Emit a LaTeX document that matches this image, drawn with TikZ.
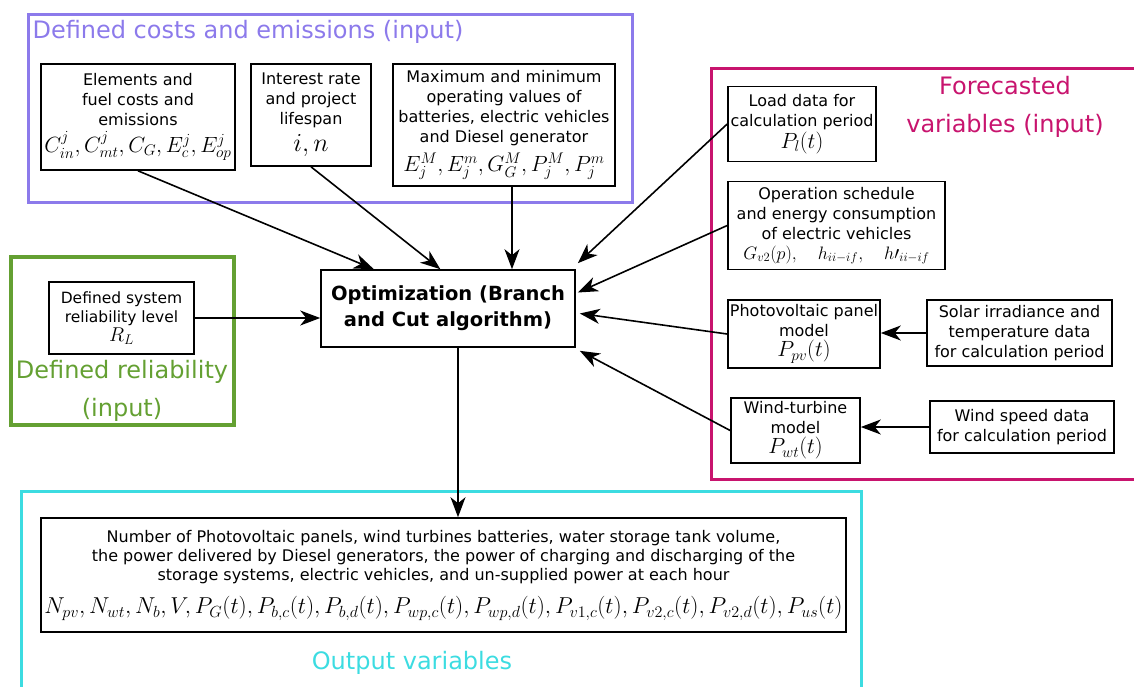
\RequirePackage{fix-cm}
\documentclass[tikz,border=0pt]{standalone}
\usepackage{amsmath}
\usepackage[no-math]{fontspec}
\setmainfont{DejaVu Sans}
\usetikzlibrary{arrows.meta, calc, positioning}
\definecolor{costcol}{RGB}{140,122,235}
\definecolor{relcol}{RGB}{100,160,50}
\definecolor{fccol}{RGB}{200,20,110}
\definecolor{outcol}{RGB}{60,220,225}
\newcommand{\boxfont}{\fontsize{16}{20}\selectfont}
\newcommand{\mathbig}{\fontsize{22}{24}\selectfont}
\newcommand{\titlefont}{\fontsize{24}{38}\selectfont}

\begin{document}
\begin{tikzpicture}[x=1pt, y=-1pt, >={Stealth[length=20pt, width=15pt, inset=6pt]},
    box/.style={draw, line width=1.6pt, align=center, inner sep=1pt, font=\boxfont},
    frame/.style={line width=3pt},
    link/.style={->, line width=1.6pt}]
    \useasboundingbox (0,0) rectangle (1134,686);

    % frames of the input and output groups
    \draw[frame, costcol] (28,14) rectangle (632,202);
    \draw[frame, relcol, line width=4pt] (11,257) rectangle (234,425);
    \draw[frame, fccol] (711,68) rectangle (1150,479);
    \draw[frame, outcol] (21,491) rectangle (861,700);

    \node[anchor=west, text=costcol, font=\titlefont] (costtitle) at (29,32) {Defined costs and emissions (input)};
    \node[align=center, text=relcol, font=\titlefont] (reltitle) at (122,391) {Defined reliability\\(input)};
    \node[align=center, text=fccol, font=\titlefont] (fctitle) at (1005,107) {Forecasted\\variables (input)};
    \node[text=outcol, font=\titlefont] (outtitle) at (412,663) {Output variables};

    % costs and emissions
    \node[box, minimum width=194, minimum height=106] (elem) at (138,117)
        {Elements and\\fuel costs and\\emissions\\[5pt]{\mathbig$C^j_{in}, C^j_{mt}, C_G, E^j_c, E^j_{op}$}};
    \node[box, minimum width=120, minimum height=102] (rate) at (311,115)
        {Interest rate\\and project\\lifespan\\[6pt]{\fontsize{26}{28}\selectfont$i, n$}};
    \node[box, minimum width=222, minimum height=122] (limits) at (504,125)
        {Maximum and minimum\\operating values of\\batteries, electric vehicles\\and Diesel generator\\[6pt]{\mathbig$E_j^M, E_j^m, G_G^M, P_j^M, P_j^m$}};

    % optimization
    \node[box, minimum width=254, minimum height=77, font=\bfseries\fontsize{19.5}{26}\selectfont] (opt) at (448,308.5)
        {Optimization (Branch\\and Cut algorithm)};

    % reliability
    \node[box, minimum width=145, minimum height=72, font=\fontsize{15.5}{19}\selectfont] (rel) at (121.5,318)
        {Defined system\\reliability level\\{\fontsize{20}{22}\selectfont$R_L$}};

    % forecasted variables
    \node[box, minimum width=148, minimum height=75] (load) at (802,124)
        {Load data for\\calculation period\\[2pt]{\mathbig$P_l(t)$}};
    \node[box, minimum width=217, minimum height=88] (ev) at (836.5,225.5)
        {Operation schedule\\and energy consumption\\of electric vehicles\\{\fontsize{18}{20}\selectfont$G_{v2}(p),\quad h_{ii-if},\quad h\prime_{ii-if}$}};
    \node[box, minimum width=152, minimum height=68] (pv) at (804,334)
        {Photovoltaic panel\\model\\{\mathbig$P_{pv}(t)$}};
    \node[box, minimum width=185, minimum height=66] (solar) at (1019.5,333)
        {Solar irradiance and\\temperature data\\for calculation period};
    \node[box, minimum width=129, minimum height=65] (wtm) at (795.5,430.5)
        {Wind-turbine\\model\\{\mathbig$P_{wt}(t)$}};
    \node[box, minimum width=184, minimum height=52] (wind) at (1022,427)
        {Wind speed data\\for calculation period};

    % output variables
    \node[box, minimum width=805, minimum height=114, font=\fontsize{16}{19}\selectfont] (out) at (443.5,575)
        {Number of Photovoltaic panels, wind turbines batteries, water storage tank volume,\\
         the power delivered by Diesel generators, the power of charging and discharging of the\\
         storage systems, electric vehicles, and un-supplied power at each hour\\[12pt]
         {\fontsize{23}{25}\selectfont$N_{pv}, N_{wt}, N_b, V, P_G(t), P_{b,c}(t), P_{b,d}(t), P_{wp,c}(t), P_{wp,d}(t), P_{v1,c}(t), P_{v2,c}(t), P_{v2,d}(t), P_{us}(t)$}};

    % connections
    \draw[link] (elem.south) -- ($(opt.north west)!0.21!(opt.north east)$);
    \draw[link] (rate.south) -- ($(opt.north west)!0.47!(opt.north east)$);
    \draw[link] ([xshift=8]limits.south) -- ([xshift=8]limits.south |- opt.north);
    \draw[link] (rel.east) -- (rel.east -| opt.west);
    \draw[link] (load.west) -- ([xshift=2,yshift=6]opt.north east);
    \draw[link] (ev.west) -- ([xshift=2,yshift=16]opt.east);
    \draw[link] (pv.west) -- ([xshift=4,yshift=-5]opt.east);
    \draw[link] (wtm.west) -- ([xshift=4,yshift=-3]opt.south east);
    \draw[link] (solar.west) -- (solar.west -| pv.east);
    \draw[link] (wind.west) -- (wind.west -| wtm.east);
    \draw[link] (opt.south) ++(10,0) coordinate (optout) -- (optout |- out.north);
\end{tikzpicture}
\end{document}
